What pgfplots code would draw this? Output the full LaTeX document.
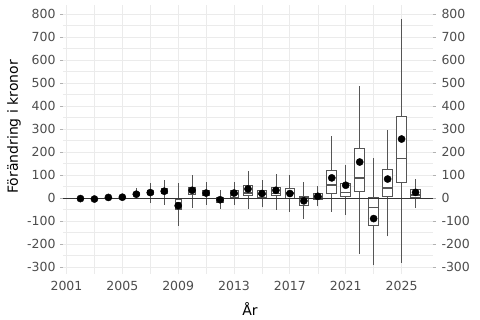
\documentclass[border=0pt]{standalone}
\usepackage{fontspec}
\setmainfont{DejaVu Sans}
\usepackage{pgfplots}
\pgfplotsset{compat=1.18}
\definecolor{tickgrey}{HTML}{4D4D4D}
\definecolor{gridgrey}{HTML}{EBEBEB}
\definecolor{boxgrey}{HTML}{555555}
% x positions are years minus 2000
% args: pos, left, right, lower whisker, lower quartile, median, upper quartile, upper whisker
\newcommand{\bx}[8]{%
\addplot[boxgrey, line width=0.8pt] coordinates {(#1,#4) (#1,#5)};
\addplot[boxgrey, line width=0.8pt] coordinates {(#1,#7) (#1,#8)};
\addplot[boxgrey, line width=0.9pt, fill=white] coordinates {(#2,#5) (#3,#5) (#3,#7) (#2,#7)} -- cycle;
\addplot[boxgrey, line width=1.6pt] coordinates {(#2,#6) (#3,#6)};}
\begin{document}
\begin{tikzpicture}
\path[use as bounding box] (0pt,0pt) rectangle (480pt,320pt);
\begin{axis}[
  at={(63pt,46pt)}, anchor=south west, scale only axis,
  width=370pt, height=269pt,
  xmin=0.75, xmax=27.25, ymin=-330, ymax=840,
  xtick={1,5,...,25}, xticklabels={2001,2005,2009,2013,2017,2021,2025},
  minor x tick num=1,
  ytick={-300,-200,...,800}, minor y tick num=1,
  grid=both,
  major grid style={gridgrey, line width=0.8pt},
  minor grid style={gridgrey, line width=0.5pt},
  axis line style={draw=none},
  xtick style={draw=none},
  ytick style={gray!60, line width=0.6pt},
  minor tick style={draw=none},
  tick align=outside, major tick length=3pt,
  /pgf/number format/assume math mode=true,
  ticklabel style={font=\fontsize{12.5}{14}\selectfont, text=tickgrey},
  yticklabel style={xshift=-1pt},
  xticklabel style={yshift=-1pt},
  clip=false,
]
\bx{2}{1.85}{2.15}{-8}{-4}{-2}{2}{6}
\bx{3}{2.85}{3.15}{-10}{-6}{-4}{-1}{3}
\bx{4}{3.85}{4.15}{-4}{0}{3}{6}{10}
\bx{5}{4.85}{5.15}{-4}{0}{3}{6}{10}
\bx{6}{5.8}{6.2}{-4}{10}{16}{23}{44}
\bx{7}{6.8}{7.2}{-22}{14}{22}{32}{66}
\bx{8}{7.8}{8.2}{-28}{20}{28}{40}{77}
\bx{9}{8.79}{9.21}{-120}{-48}{-20}{-4}{66}
\bx{10}{9.735}{10.265}{-43}{15}{30}{47}{102}
\bx{11}{10.76}{11.24}{-28}{10}{20}{32}{69}
\bx{12}{11.76}{12.24}{-47}{-17}{-7}{3}{37}
\bx{13}{12.715}{13.285}{-31}{5}{18}{32}{70}
\bx{14}{13.675}{14.325}{-47}{12}{22}{56}{117}
\bx{15}{14.69}{15.31}{-40}{5}{15}{34}{77}
\bx{16}{15.675}{16.325}{-50}{11}{20}{47}{105}
\bx{17}{16.665}{17.335}{-60}{-1}{22}{40}{99}
\bx{18}{17.665}{18.335}{-90}{-31}{2}{8}{69}
\bx{19}{18.655}{19.345}{-36}{-4}{5}{20}{51}
\bx{20}{19.64}{20.36}{-60}{22}{56}{121}{269}
\bx{21}{20.64}{21.36}{-72}{8}{25}{64}{146}
\bx{22}{21.64}{22.36}{-243}{30}{88}{214}{486}
\bx{23}{22.64}{23.36}{-292}{-117}{-40}{1}{176}
\bx{24}{23.64}{24.36}{-166}{7}{43}{124}{298}
\bx{25}{24.64}{25.36}{-282}{70}{172}{356}{780}
\bx{26}{25.64}{26.36}{-43}{5}{14}{37}{85}
\addplot[color={black!80}, line width=0.9pt] coordinates {(0.75,0) (27.25,0)};
\addplot[only marks, mark=*, mark size=3.6pt, black] coordinates {
(2,-2) (3,-4) (4,3) (5,4) (6,17) (7,24) (8,30)
(9,-33) (10,34) (11,22) (12,-7) (13,22) (14,40) (15,20)
(16,34) (17,20) (18,-12) (19,8) (20,88) (21,56) (22,157)
(23,-89) (24,83) (25,257) (26,25)};
\end{axis}
\begin{axis}[
  at={(63pt,46pt)}, anchor=south west, scale only axis,
  width=370pt, height=269pt,
  xmin=0.75, xmax=27.25, ymin=-330, ymax=840,
  xtick=\empty, ytick={-300,-200,...,800},
  yticklabel pos=right,
  axis line style={draw=none}, ytick style={draw=none},
  /pgf/number format/assume math mode=true,
  ticklabel style={font=\fontsize{12.5}{14}\selectfont, text=tickgrey},
  yticklabel style={xshift=5pt},
]
\addplot[draw=none] coordinates {(1,0)};
\end{axis}
\node[rotate=90, font=\fontsize{14}{16}\selectfont] at (14pt,193pt) {Förändring i kronor};
\node[font=\fontsize{14}{16}\selectfont] at (250pt,11pt) {År};
\end{tikzpicture}
\end{document}
